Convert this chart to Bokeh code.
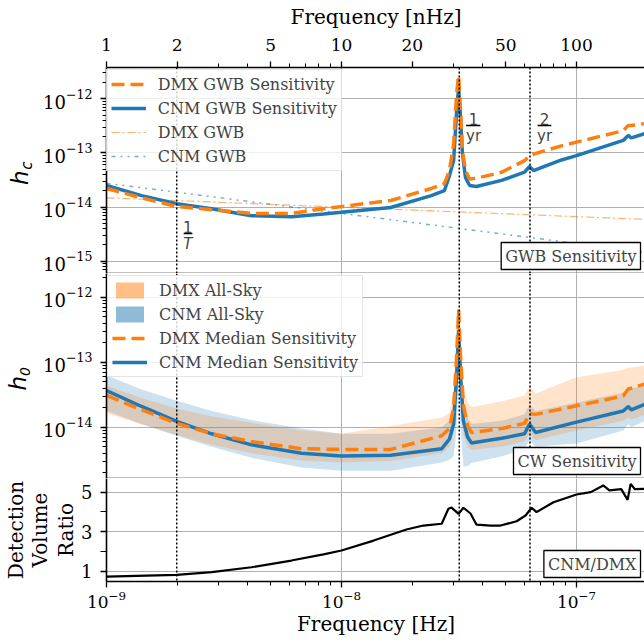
from bokeh.plotting import figure
from bokeh.layouts import column
from bokeh.models import (Range1d, FixedTicker, Span, Label, Legend, LegendItem,
                          CustomJSTickFormatter)
from bokeh.embed import file_html
from bokeh.resources import INLINE

# ---------------------------------------------------------------- data
# characteristic frequencies [Hz]
F_OBS = 1.99e-9   # 1/T
F_YR = 3.17e-8    # 1/yr
F_2YR = 6.34e-8   # 2/yr
F_MIN, F_MAX = 1e-9, 1.966e-7

# GWB sensitivity (characteristic strain)
freq_gwb = [1.0e-9, 1.41e-9, 1.99e-9, 2.80e-9, 4.14e-9, 6.12e-9, 8.38e-9, 1.62e-8,
            2.41e-8, 2.74e-8, 2.88e-8, 3.0e-8, 3.09e-8, 3.15e-8, 3.21e-8, 3.27e-8,
            3.37e-8, 3.51e-8, 3.75e-8, 4.80e-8, 6.01e-8, 6.31e-8, 6.56e-8, 8.63e-8,
            1.0e-7, 1.58e-7, 1.66e-7, 1.71e-7, 1.97e-7]
hc_dmx_sens = [2.2e-14, 1.48e-14, 1.02e-14, 8.9e-15, 7.6e-15, 7.6e-15, 9.3e-15, 1.32e-14,
               2.2e-14, 2.7e-14, 4.7e-14, 1.48e-13, 1.26e-12, 2.7e-12, 6.0e-13, 1.1e-13,
               4.7e-14, 3.3e-14, 3.4e-14, 4.4e-14, 7.2e-14, 8.9e-14, 9.5e-14, 1.35e-13,
               1.58e-13, 2.57e-13, 3.2e-13, 3.2e-13, 3.5e-13]
hc_cnm_sens = [2.5e-14, 1.62e-14, 1.15e-14, 9.3e-15, 6.9e-15, 6.6e-15, 7.4e-15, 9.8e-15,
               1.62e-14, 2.0e-14, 3.8e-14, 7.2e-14, 6.0e-13, 1.6e-12, 4.5e-13, 9.8e-14,
               3.5e-14, 2.5e-14, 2.4e-14, 3.1e-14, 4.4e-14, 5.6e-14, 4.7e-14, 7.4e-14,
               8.9e-14, 1.7e-13, 2.1e-13, 1.9e-13, 2.3e-13]

# recovered GWB power laws
freq_pl = [1.0e-9, 1.97e-7]
hc_dmx_gwb = [1.48e-14, 5.9e-15]
hc_cnm_gwb = [2.75e-14, 1.45e-15]

# CW sensitivity (strain amplitude)
freq_cw = [1.0e-9, 1.41e-9, 1.99e-9, 2.80e-9, 4.14e-9, 6.76e-9, 1.0e-8, 1.62e-8,
           2.67e-8, 2.88e-8, 3.0e-8, 3.09e-8, 3.15e-8, 3.21e-8, 3.30e-8, 3.44e-8,
           3.57e-8, 4.80e-8, 6.01e-8, 6.31e-8, 6.70e-8, 1.0e-7, 1.58e-7, 1.66e-7,
           1.71e-7, 1.97e-7]
h0_dmx_median = [3.09e-14, 1.86e-14, 1.15e-14, 7.94e-15, 6.03e-15, 4.68e-15, 4.57e-15, 4.57e-15,
                 7.41e-15, 9.55e-15, 2.0e-14, 1.26e-13, 6.46e-13, 1.26e-13, 2.24e-14, 1.05e-14,
                 8.32e-15, 9.55e-15, 1.15e-14, 1.62e-14, 1.58e-14, 2.14e-14, 3.02e-14, 3.89e-14,
                 3.98e-14, 4.68e-14]
h0_cnm_median = [3.67e-14, 2.09e-14, 1.23e-14, 7.94e-15, 5.37e-15, 3.98e-15, 3.63e-15, 3.72e-15,
                 4.68e-15, 6.61e-15, 1.12e-14, 6.31e-14, 3.16e-13, 6.31e-14, 1.26e-14, 7.08e-15,
                 5.75e-15, 6.76e-15, 7.94e-15, 1.12e-14, 8.32e-15, 1.20e-14, 1.78e-14, 2.09e-14,
                 1.86e-14, 2.29e-14]
h0_dmx_hi = [4.37e-14, 2.82e-14, 1.95e-14, 1.48e-14, 1.17e-14, 8.91e-15, 7.94e-15, 1.05e-14,
             1.41e-14, 1.66e-14, 3.55e-14, 2.0e-13, 7.08e-13, 2.0e-13, 3.98e-14, 2.40e-14,
             2.04e-14, 2.51e-14, 3.09e-14, 4.27e-14, 3.31e-14, 5.89e-14, 7.59e-14, 8.32e-14,
             8.32e-14, 8.91e-14]
h0_dmx_lo = [1.66e-14, 1.10e-14, 7.59e-15, 5.37e-15, 3.98e-15, 3.09e-15, 2.88e-15, 3.02e-15,
             3.98e-15, 5.01e-15, 7.94e-15, 3.98e-14, 2.0e-13, 3.98e-14, 7.94e-15, 5.01e-15,
             4.47e-15, 5.01e-15, 6.03e-15, 7.94e-15, 6.31e-15, 8.91e-15, 1.26e-14, 1.41e-14,
             1.32e-14, 1.58e-14]
h0_cnm_hi = [6.31e-14, 3.80e-14, 2.57e-14, 1.78e-14, 1.29e-14, 9.55e-15, 7.94e-15, 7.94e-15,
             1.0e-14, 1.26e-14, 2.51e-14, 1.26e-13, 5.01e-13, 1.26e-13, 2.51e-14, 1.41e-14,
             1.12e-14, 1.26e-14, 1.58e-14, 2.24e-14, 1.78e-14, 2.40e-14, 3.39e-14, 4.17e-14,
             3.98e-14, 4.47e-14]
h0_cnm_lo = [1.78e-14, 1.12e-14, 7.41e-15, 5.01e-15, 3.39e-15, 2.40e-15, 2.14e-15, 2.14e-15,
             2.88e-15, 3.16e-15, 3.55e-15, 1.0e-14, 6.31e-14, 1.0e-14, 2.51e-15, 2.51e-15,
             2.82e-15, 3.55e-15, 4.68e-15, 6.31e-15, 5.01e-15, 5.62e-15, 8.91e-15, 1.12e-14,
             1.0e-14, 1.26e-14]

# CNM/DMX detection volume ratio
freq_ratio = [1.0e-9, 1.99e-9, 2.80e-9, 4.14e-9, 6.12e-9, 8.38e-9, 1.0e-8, 1.37e-8,
              1.89e-8, 2.23e-8, 2.67e-8, 2.85e-8, 2.94e-8, 3.15e-8, 3.30e-8, 3.54e-8,
              3.75e-8, 4.31e-8, 4.75e-8, 5.56e-8, 6.07e-8, 6.44e-8, 6.76e-8, 7.98e-8,
              1.0e-7, 1.15e-7, 1.30e-7, 1.38e-7, 1.55e-7, 1.65e-7, 1.70e-7, 1.77e-7, 1.97e-7]
volume_ratio = [0.73, 0.82, 0.95, 1.2, 1.54, 1.85, 2.05, 2.55,
                3.11, 3.31, 3.40, 4.16, 4.22, 3.9, 4.21, 3.92,
                3.36, 3.31, 3.31, 3.53, 3.82, 4.21, 3.99, 4.49,
                4.88, 5.0, 5.34, 5.09, 5.15, 4.61, 5.42, 5.15, 5.17]

# ---------------------------------------------------------------- style
SERIF = "DejaVu Serif"
MATH = "DejaVu Sans"
ORANGE = "#ff7f0e"
BLUE = "#1f77b4"
GRID = "#b0b0b0"
LW = 3.5
NBSP = "\u00a0"

decades = [1e-9, 1e-8, 1e-7]
x_minor = [k * d for d in [1e-10, 1e-9, 1e-8, 1e-7] for k in range(2, 10)]
y_decades = [10.0 ** e for e in range(-17, -10)]
y_minor = [k * d for d in y_decades for k in range(2, 10)]

x_range = Range1d(F_MIN, F_MAX)


def make_fig(frame_height, y_type, y_range, x_loc, top, bottom):
    p = figure(frame_width=539, frame_height=frame_height, x_axis_type="log",
               y_axis_type=y_type, x_range=x_range, y_range=y_range,
               x_axis_location=x_loc, toolbar_location=None, output_backend="svg",
               min_border_left=105, min_border_right=0, min_border_top=top,
               min_border_bottom=bottom)
    p.outline_line_color = None
    p.background_fill_color = "white"
    p.border_fill_color = "white"
    p.xgrid.ticker = FixedTicker(ticks=decades)
    for g in (p.xgrid, p.ygrid):
        g.grid_line_color = GRID
        g.grid_line_width = 1
    for ax in p.axis:
        ax.axis_line_width = 1.6
        ax.axis_line_color = "black"
        ax.major_tick_out = 6
        ax.major_tick_in = 0
        ax.minor_tick_out = 4
        ax.minor_tick_in = 0
        ax.major_tick_line_width = 1.3
        ax.minor_tick_line_width = 1
        ax.major_label_text_font = SERIF
        ax.major_label_text_font_size = "17px"
        ax.major_label_text_color = "black"
        ax.axis_label_text_font = SERIF
        ax.axis_label_text_font_size = "20px"
        ax.axis_label_text_font_style = "normal"
        ax.axis_label_text_color = "black"
    p.yaxis.major_label_standoff = 8
    p.yaxis.major_label_text_font_size = "18px"
    for f in (F_OBS, F_YR, F_2YR):
        p.add_layout(Span(location=f, dimension="height", line_color="black",
                          line_width=1.5, line_dash="2 2"))
    return p


def title_axis(p, text, font, size, standoff, style="normal"):
    # tick-less outer axis that only carries a (rotated) title text
    ax = type(p.yaxis[0])(ticker=FixedTicker(ticks=[]), axis_line_color=None,
                          major_tick_out=0, major_tick_in=0, minor_tick_out=0,
                          minor_tick_in=0, axis_label=text, axis_label_text_font=font,
                          axis_label_text_font_size=size, axis_label_text_font_style=style,
                          axis_label_text_color="black", axis_label_standoff=standoff)
    p.add_layout(ax, "left")


def frame_bottom(p, y):
    p.add_layout(Span(location=y, dimension="width", line_color="black", line_width=1.6))


def box_label(p, text, y):
    p.add_layout(Label(x=F_MAX, y=y, text=text, text_align="right", text_baseline="bottom",
                       x_offset=-5, y_offset=4, text_font=SERIF, text_font_size="16px",
                       border_line_color="black", border_line_width=1.3,
                       background_fill_color="white", padding=4))


def style_legend(lg):
    lg.location = "top_left"
    lg.label_text_font = SERIF
    lg.label_text_font_size = "16px"
    lg.glyph_width = 35
    lg.glyph_height = 20
    lg.label_height = 20
    lg.spacing = 4
    lg.padding = 4
    lg.margin = 2
    lg.label_standoff = 12
    lg.border_line_color = "#cccccc"
    lg.border_line_width = 1
    lg.background_fill_alpha = 0.8


# ---------------------------------------------------------------- GWB panel
p1 = make_fig(206, "log", Range1d(5.9e-16, 3.79e-12), "above", 67, 0)
p1.yaxis.ticker = FixedTicker(ticks=y_decades, minor_ticks=y_minor)
p1.ygrid.ticker = FixedTicker(ticks=y_decades)
top_ax = p1.above[0]
top_ax.ticker = FixedTicker(ticks=[1e-9, 2e-9, 5e-9, 1e-8, 2e-8, 5e-8, 1e-7],
                           minor_ticks=[k * d for d in [1e-9, 1e-8, 1e-7]
                                        for k in (3, 4, 6, 7, 8, 9)])
top_ax.formatter = CustomJSTickFormatter(code="return (tick * 1e9).toFixed(0);")
top_ax.axis_label = "Frequency [nHz]"
top_ax.major_label_standoff = 11
top_ax.axis_label_standoff = 7

r_cnm_gwb = p1.line(freq_pl, hc_cnm_gwb, line_color=BLUE, line_width=1.5, line_alpha=0.6,
                    line_dash="4 5 2 5 2 5")
r_dmx_gwb = p1.line(freq_pl, hc_dmx_gwb, line_color=ORANGE, line_width=1.2, line_alpha=0.6,
                    line_dash="8 3 2 3")
r_cnm_s = p1.line(freq_gwb, hc_cnm_sens, line_color=BLUE, line_width=LW)
r_dmx_s = p1.line(freq_gwb, hc_dmx_sens, line_color=ORANGE, line_width=LW, line_dash="13 6")

lg1 = Legend(items=[LegendItem(label="DMX GWB Sensitivity", renderers=[r_dmx_s]),
                    LegendItem(label="CNM GWB Sensitivity", renderers=[r_cnm_s]),
                    LegendItem(label="DMX GWB", renderers=[r_dmx_gwb]),
                    LegendItem(label="CNM GWB", renderers=[r_cnm_gwb])])
style_legend(lg1)
p1.add_layout(lg1)
frame_bottom(p1, 5.9e-16)
box_label(p1, "GWB Sensitivity", 5.9e-16)
# y title h_c: subscript first (closer to the ticks), then the main letter
title_axis(p1, NBSP * 2 + "c", MATH, "15px", 5, "italic")
title_axis(p1, "h" + NBSP * 2, MATH, "23px", -18, "italic")


def fraction(p, x_c, x0, x1, y_bar, num, den, italic=False):
    p.segment(x0=[x0], y0=[y_bar], x1=[x1], y1=[y_bar], line_color="black", line_width=1.5)
    p.add_layout(Label(x=x_c, y=y_bar, text=num, text_align="center", text_baseline="bottom",
                       y_offset=1, text_font=MATH, text_font_size="15px"))
    p.add_layout(Label(x=x_c, y=y_bar, text=den, text_align="center", text_baseline="top",
                       y_offset=-1, text_font=MATH, text_font_size="15px",
                       text_font_style="italic" if italic else "normal"))


fraction(p1, 3.65e-8, 3.39e-8, 3.90e-8, 3.2e-13, "1", "yr")
fraction(p1, 7.31e-8, 6.83e-8, 7.81e-8, 3.2e-13, "2", "yr")
fraction(p1, 2.22e-9, 2.13e-9, 2.32e-9, 10 ** -14.49, "1", "T", italic=True)

# ---------------------------------------------------------------- CW panel
p2 = make_fig(205, "log", Range1d(1.63e-15, 2.32e-12), None, 0, 0)
p2.yaxis.ticker = FixedTicker(ticks=y_decades, minor_ticks=y_minor)
p2.ygrid.ticker = FixedTicker(ticks=y_decades)

r_cnm_band = p2.varea(freq_cw, h0_cnm_lo, h0_cnm_hi, fill_color=BLUE, fill_alpha=0.22)
r_dmx_band = p2.varea(freq_cw, h0_dmx_lo, h0_dmx_hi, fill_color=ORANGE, fill_alpha=0.22)
r_cnm_m = p2.line(freq_cw, h0_cnm_median, line_color=BLUE, line_width=LW)
r_dmx_m = p2.line(freq_cw, h0_dmx_median, line_color=ORANGE, line_width=LW, line_dash="13 6")
# legend swatches at full band strength (placed outside the visible frequency span)
sw_x = [1e-12, 2e-12]
sw_dmx = p2.varea(x=sw_x, y1=h0_dmx_lo[:2], y2=h0_dmx_hi[:2], fill_color=ORANGE, fill_alpha=0.5)
sw_cnm = p2.varea(x=sw_x, y1=h0_cnm_lo[:2], y2=h0_cnm_hi[:2], fill_color=BLUE, fill_alpha=0.5)

lg2 = Legend(items=[LegendItem(label="DMX All-Sky", renderers=[sw_dmx]),
                    LegendItem(label="CNM All-Sky", renderers=[sw_cnm]),
                    LegendItem(label="DMX Median Sensitivity", renderers=[r_dmx_m]),
                    LegendItem(label="CNM Median Sensitivity", renderers=[r_cnm_m])])
style_legend(lg2)
p2.add_layout(lg2)
frame_bottom(p2, 1.63e-15)
box_label(p2, "CW Sensitivity", 1.63e-15)
title_axis(p2, NBSP * 2 + "0", MATH, "14px", 8, "italic")
title_axis(p2, "h" + NBSP * 2, MATH, "23px", -17, "italic")

# ---------------------------------------------------------------- ratio panel
p3 = make_fig(103, "linear", Range1d(0.48, 5.69), "below", 0, 60)
p3.yaxis.ticker = FixedTicker(ticks=[1, 3, 5], minor_ticks=[2, 4])
p3.yaxis.minor_tick_out = 6
p3.ygrid.ticker = FixedTicker(ticks=[1, 3, 5])
p3.xaxis.ticker = FixedTicker(ticks=decades, minor_ticks=x_minor)
p3.xaxis.axis_label = "Frequency [Hz]"
p3.xaxis.major_label_standoff = 3
p3.xaxis.axis_label_standoff = 1
p3.line(freq_ratio, volume_ratio, line_color="black", line_width=2.2)
box_label(p3, "CNM/DMX", 0.48)
title_axis(p3, "Ratio", SERIF, "20px", 1)
title_axis(p3, "Volume", SERIF, "20px", -1)
title_axis(p3, "Detection", SERIF, "20px", -3)

layout = column(p1, p2, p3, spacing=0)
open("out.html", "w").write(file_html(layout, INLINE))
